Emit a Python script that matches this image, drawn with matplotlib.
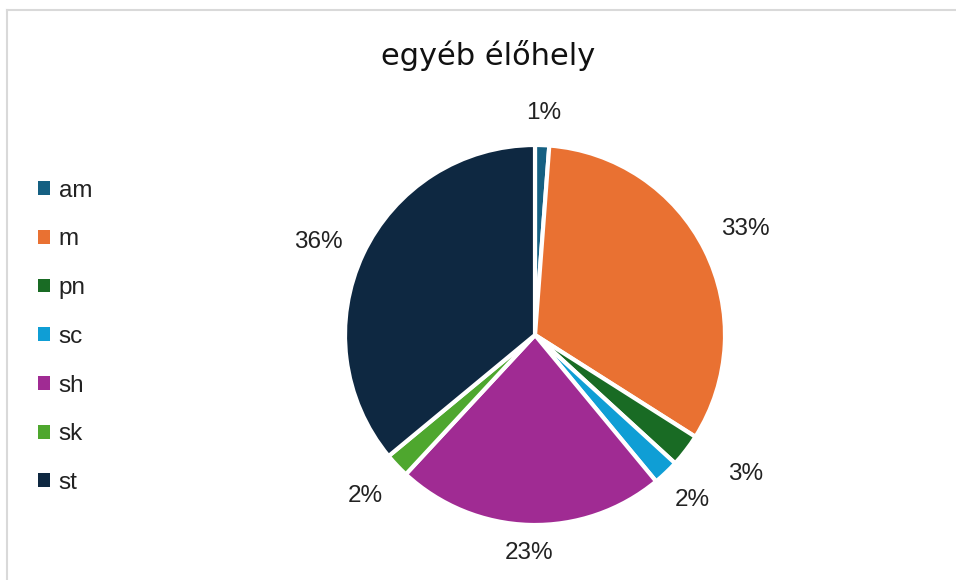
import matplotlib.pyplot as plt
from matplotlib.patches import Patch
from matplotlib.lines import Line2D
import numpy as np

# data
categories = ["am", "m", "pn", "sc", "sh", "sk", "st"]
shares = [1.2, 32.8, 2.8, 2.2, 22.9, 2.1, 36.0]
colors = ["#156082", "#E97132", "#196B24", "#0F9ED5", "#A02B93", "#4EA72E", "#0E2841"]
title = "egyéb élőhely"

W, H = 956, 580
cx, cy, r = 535, 335, 190
font = ["Liberation Sans", "DejaVu Sans"]

fig = plt.figure(figsize=(W / 100, H / 100), dpi=100)
ax = fig.add_axes([0, 0, 1, 1])

wedges, texts, autotexts = ax.pie(
    shares, colors=colors, startangle=90, counterclock=False,
    autopct=lambda p: f"{p:.0f}%", pctdistance=1.2,
    wedgeprops=dict(edgecolor="white", linewidth=3),
    textprops=dict(fontsize=17.5, color="#222222", family=font))

# nudge labels (distance, angle in degrees) to where they sit in the original
dist = {0: 1.17, 1: 1.24, 2: 1.33, 3: 1.2, 4: 1.15, 5: 1.23, 6: 1.24}
turn = {0: 0, 1: 0, 2: 4, 3: 0, 4: 0, 5: 0, 6: 2}
for i, (w, t) in enumerate(zip(wedges, autotexts)):
    ang = np.deg2rad((w.theta1 + w.theta2) / 2 + turn[i])
    t.set_position((dist[i] * np.cos(ang), dist[i] * np.sin(ang)))

ax.set_xlim(-cx / r, (W - cx) / r)
ax.set_ylim(-(H - cy) / r, cy / r)
ax.set_aspect("auto")
ax.axis("off")

fig.text(0.511, 0.905, title, ha="center", va="center", fontsize=22,
         family=["Liberation Sans Narrow", "DejaVu Sans"], color="#111111")

handles = [Patch(facecolor=c, edgecolor="none") for c in colors]
leg = fig.legend(handles, categories, loc="upper left", bbox_to_anchor=(0.017, 0.728),
                 frameon=False, handlelength=0.5, handleheight=0.5,
                 handletextpad=0.35, labelspacing=1.1,
                 prop=dict(family=font, size=17.5))
for t in leg.get_texts():
    t.set_color("#222222")

# chart frame (only top and left edge visible in the crop)
fig.add_artist(Line2D([6.5 / W, 1], [1 - 9.5 / H, 1 - 9.5 / H], color="#d9d9d9", lw=1.5))
fig.add_artist(Line2D([6.5 / W, 6.5 / W], [0, 1 - 9.5 / H], color="#d9d9d9", lw=1.5))

fig.savefig("out.png", dpi=100, facecolor="white")
